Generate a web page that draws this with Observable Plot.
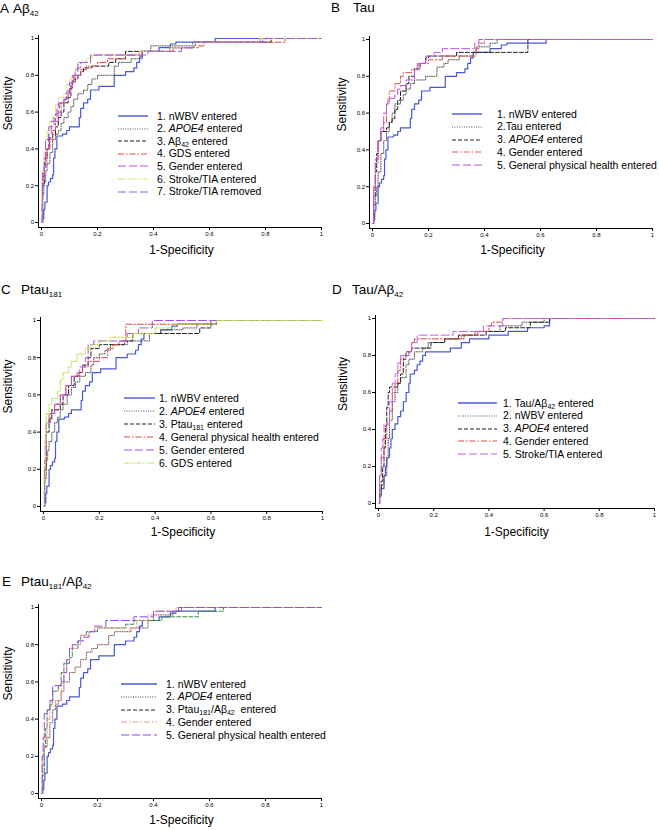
<!DOCTYPE html>
<html><head><meta charset="utf-8">
<script src="https://cdn.jsdelivr.net/npm/d3@7"></script>
<script src="https://cdn.jsdelivr.net/npm/@observablehq/plot@0.6"></script>
<style>
body{margin:0;background:#fff;font-family:"Liberation Sans",Arial,sans-serif;color:#000;}
#root{position:relative;width:659px;height:830px;overflow:hidden;}
.plot{position:absolute;}
.letter,.title{position:absolute;font-size:13.5px;line-height:13px;white-space:nowrap;}
.title sub,.legt sub{font-size:8px;vertical-align:-3px;line-height:0;}
.legt sub{font-size:7px;vertical-align:-2px;}
.legt{position:absolute;font-size:10.5px;line-height:12px;white-space:nowrap;}
.legs{position:absolute;}
</style></head><body><div id="root"></div>
<script>
// ---------- tick values / labels ----------
const tickValues = [0, 0.2, 0.4, 0.6, 0.8, 1];
const tickLabels = ["0", "0.2", "0.4", "0.6", "0.8", "1"];

// ---------- panel texts ----------
const panelLetters = ["A", "B", "C", "D", "E"];
const panelTitles = ["Aβ<sub>42</sub>", "Tau", "Ptau<sub>181</sub>", "Tau/Aβ<sub>42</sub>", "Ptau<sub>181</sub>/Aβ<sub>42</sub>"];
const xLabel = "1-Specificity";
const yLabel = "Sensitivity";

// ---------- shared curve: nWBV only model ----------
const nWBV = [[0,0],[0.004,0.02],[0.008,0.07],[0.012,0.11],[0.02,0.2],[0.025,0.22],[0.032,0.24],[0.04,0.26],[0.043,0.35],[0.048,0.4],[0.055,0.47],[0.075,0.48],[0.09,0.5],[0.1,0.52],[0.13,0.52],[0.135,0.57],[0.14,0.62],[0.15,0.65],[0.165,0.67],[0.175,0.72],[0.205,0.74],[0.26,0.8],[0.3,0.82],[0.33,0.84],[0.34,0.87],[0.35,0.9],[0.36,0.93],[0.42,0.95],[0.46,0.97],[0.48,0.98],[0.62,1],[1,1]];

// ---------- Panel A: Aβ42 ----------
const A_labels = ["1. nWBV entered", "2. <i>APOE4</i> entered", "3. Aβ<sub>42</sub> entered", "4. GDS entered", "5. Gender entered", "6. Stroke/TIA entered", "7. Stroke/TIA removed"];
const A_apoe4 = [[0,0],[0.004,0.15],[0.008,0.22],[0.015,0.28],[0.02,0.32],[0.03,0.38],[0.04,0.45],[0.05,0.48],[0.06,0.5],[0.07,0.54],[0.08,0.57],[0.095,0.6],[0.105,0.63],[0.115,0.67],[0.13,0.7],[0.15,0.72],[0.165,0.75],[0.18,0.78],[0.2,0.8],[0.26,0.85],[0.275,0.87],[0.32,0.89],[0.36,0.93],[0.39,0.96],[0.55,0.98],[0.78,1],[1,1]];
const A_abeta = [[0,0],[0.004,0.2],[0.01,0.3],[0.015,0.35],[0.02,0.4],[0.028,0.46],[0.04,0.48],[0.05,0.52],[0.06,0.57],[0.07,0.6],[0.08,0.65],[0.095,0.68],[0.105,0.73],[0.11,0.76],[0.12,0.78],[0.13,0.8],[0.14,0.82],[0.15,0.84],[0.18,0.85],[0.24,0.87],[0.265,0.89],[0.3,0.93],[0.46,0.95],[0.54,0.98],[0.82,1],[1,1]];
const A_gds = [[0,0],[0.003,0.25],[0.01,0.33],[0.02,0.4],[0.03,0.45],[0.04,0.5],[0.05,0.55],[0.06,0.6],[0.07,0.65],[0.085,0.68],[0.095,0.72],[0.105,0.76],[0.115,0.8],[0.14,0.83],[0.16,0.85],[0.2,0.87],[0.235,0.89],[0.3,0.91],[0.36,0.93],[0.47,0.95],[0.56,0.96],[0.58,0.98],[0.87,1],[1,1]];
const A_gender = [[0,0],[0.003,0.2],[0.008,0.3],[0.015,0.4],[0.025,0.48],[0.035,0.52],[0.045,0.57],[0.055,0.62],[0.065,0.65],[0.08,0.67],[0.09,0.7],[0.1,0.74],[0.11,0.78],[0.12,0.8],[0.13,0.84],[0.14,0.87],[0.175,0.91],[0.35,0.93],[0.46,0.95],[0.54,0.98],[0.8,1],[1,1]];
const A_strokeIn = [[0,0],[0.002,0.28],[0.008,0.38],[0.015,0.45],[0.02,0.5],[0.03,0.55],[0.04,0.58],[0.05,0.64],[0.06,0.68],[0.08,0.7],[0.09,0.75],[0.1,0.78],[0.11,0.8],[0.12,0.84],[0.13,0.87],[0.16,0.89],[0.18,0.91],[0.35,0.93],[0.46,0.95],[0.54,0.98],[0.78,1],[1,1]];
const A_strokeOut = [[0,0],[0.002,0.12],[0.004,0.27],[0.01,0.35],[0.014,0.45],[0.026,0.52],[0.035,0.55],[0.05,0.59],[0.06,0.65],[0.08,0.67],[0.09,0.71],[0.1,0.76],[0.11,0.8],[0.12,0.83],[0.13,0.87],[0.175,0.91],[0.38,0.93],[0.5,0.95],[0.54,0.98],[0.79,1],[1,1]];

// ---------- Panel B: Tau ----------
const B_labels = ["1. nWBV entered", "2.Tau entered", "3. <i>APOE4</i> entered", "4. Gender entered", "5. General physical health entered"];
const B_tau = [[0,0],[0.004,0.1],[0.01,0.15],[0.015,0.2],[0.02,0.28],[0.03,0.38],[0.04,0.45],[0.05,0.5],[0.06,0.55],[0.07,0.6],[0.08,0.65],[0.1,0.67],[0.11,0.7],[0.12,0.73],[0.135,0.76],[0.15,0.78],[0.19,0.8],[0.23,0.85],[0.255,0.87],[0.27,0.89],[0.31,0.91],[0.36,0.93],[0.37,0.96],[0.42,0.98],[0.445,1],[1,1]];
const B_apoe4 = [[0,0],[0.004,0.15],[0.01,0.28],[0.015,0.38],[0.02,0.45],[0.03,0.5],[0.05,0.52],[0.06,0.55],[0.07,0.57],[0.08,0.62],[0.09,0.67],[0.1,0.72],[0.12,0.76],[0.13,0.8],[0.15,0.84],[0.17,0.87],[0.19,0.9],[0.2,0.91],[0.3,0.93],[0.555,1],[1,1]];
const B_gender = [[0,0],[0.004,0.2],[0.01,0.33],[0.02,0.45],[0.03,0.5],[0.04,0.55],[0.05,0.65],[0.06,0.72],[0.08,0.76],[0.1,0.8],[0.11,0.82],[0.14,0.84],[0.165,0.87],[0.2,0.89],[0.25,0.91],[0.37,0.95],[0.38,0.98],[0.4,1],[1,1]];
const B_gph = [[0,0],[0.004,0.18],[0.01,0.35],[0.02,0.45],[0.03,0.52],[0.04,0.6],[0.05,0.65],[0.055,0.68],[0.08,0.7],[0.09,0.73],[0.1,0.75],[0.12,0.78],[0.15,0.83],[0.16,0.87],[0.19,0.91],[0.22,0.93],[0.25,0.95],[0.365,0.98],[0.38,1],[1,1]];

// ---------- Panel C: Ptau181 ----------
const C_labels = ["1. nWBV entered", "2. <i>APOE4</i> entered", "3. Ptau<sub>181</sub> entered", "4. General physical health entered", "5. Gender entered", "6. GDS entered"];
const C_apoe4 = [[0,0],[0.004,0.15],[0.01,0.25],[0.015,0.3],[0.02,0.35],[0.03,0.4],[0.04,0.45],[0.05,0.48],[0.06,0.52],[0.07,0.55],[0.085,0.6],[0.1,0.64],[0.115,0.67],[0.13,0.7],[0.15,0.72],[0.17,0.76],[0.18,0.8],[0.2,0.82],[0.22,0.84],[0.24,0.87],[0.3,0.89],[0.38,0.93],[0.42,0.95],[0.5,0.96],[0.55,0.98],[0.6,1],[1,1]];
const C_ptau = [[0,0],[0.004,0.2],[0.01,0.4],[0.02,0.47],[0.03,0.52],[0.06,0.55],[0.07,0.6],[0.09,0.65],[0.11,0.7],[0.125,0.72],[0.14,0.76],[0.16,0.8],[0.17,0.85],[0.2,0.87],[0.29,0.89],[0.32,0.93],[0.56,0.96],[0.6,0.98],[0.62,1],[1,1]];
const C_gph = [[0,0],[0.004,0.2],[0.01,0.45],[0.02,0.5],[0.04,0.55],[0.06,0.6],[0.08,0.65],[0.1,0.7],[0.12,0.72],[0.14,0.75],[0.16,0.78],[0.2,0.8],[0.23,0.85],[0.25,0.87],[0.27,0.89],[0.295,0.98],[0.6,1],[1,1]];
const C_gender = [[0,0],[0.004,0.25],[0.01,0.45],[0.025,0.5],[0.04,0.55],[0.06,0.6],[0.08,0.65],[0.1,0.7],[0.13,0.75],[0.15,0.8],[0.16,0.87],[0.18,0.89],[0.3,0.93],[0.34,0.96],[0.39,1],[1,1]];
const C_gds = [[0,0],[0.002,0.2],[0.005,0.35],[0.01,0.5],[0.02,0.55],[0.03,0.58],[0.05,0.62],[0.06,0.68],[0.07,0.72],[0.09,0.75],[0.1,0.78],[0.12,0.82],[0.15,0.85],[0.17,0.87],[0.2,0.89],[0.24,0.91],[0.32,0.93],[0.4,0.96],[0.47,0.98],[0.62,1],[1,1]];

// ---------- Panel D: Tau/Aβ42 ----------
const D_labels = ["1. Tau/Aβ<sub>42</sub> entered", "2. nWBV entered", "3. <i>APOE4</i> entered", "4. Gender entered", "5. Stroke/TIA entered"];
const D_ratio = [[0,0],[0.004,0.04],[0.01,0.08],[0.02,0.15],[0.025,0.2],[0.03,0.25],[0.04,0.3],[0.045,0.35],[0.05,0.4],[0.06,0.43],[0.07,0.47],[0.08,0.5],[0.09,0.55],[0.1,0.6],[0.11,0.65],[0.115,0.7],[0.13,0.72],[0.14,0.75],[0.15,0.77],[0.16,0.8],[0.17,0.82],[0.26,0.84],[0.3,0.87],[0.33,0.89],[0.4,0.91],[0.47,0.93],[0.54,0.95],[0.6,0.96],[0.62,1],[1,1]];
const D_nwbv = [[0,0],[0.004,0.05],[0.01,0.1],[0.02,0.15],[0.03,0.24],[0.035,0.35],[0.04,0.45],[0.05,0.55],[0.06,0.6],[0.07,0.65],[0.08,0.68],[0.1,0.75],[0.11,0.78],[0.13,0.82],[0.16,0.84],[0.18,0.87],[0.24,0.89],[0.31,0.91],[0.35,0.93],[0.44,0.96],[0.52,0.98],[0.6,1],[1,1]];
const D_apoe4 = [[0,0],[0.004,0.08],[0.01,0.12],[0.015,0.2],[0.02,0.3],[0.025,0.42],[0.03,0.52],[0.035,0.6],[0.04,0.63],[0.07,0.65],[0.08,0.7],[0.09,0.78],[0.1,0.82],[0.12,0.84],[0.19,0.87],[0.24,0.89],[0.29,0.91],[0.39,0.93],[0.46,0.95],[0.55,0.98],[0.62,1],[1,1]];
const D_gender = [[0,0],[0.004,0.15],[0.01,0.25],[0.02,0.35],[0.03,0.44],[0.04,0.5],[0.05,0.6],[0.06,0.65],[0.07,0.72],[0.08,0.78],[0.09,0.8],[0.11,0.82],[0.12,0.87],[0.13,0.89],[0.3,0.91],[0.36,0.93],[0.4,0.96],[0.41,0.98],[0.45,1],[1,1]];
const D_stroke = [[0,0],[0.004,0.15],[0.01,0.3],[0.015,0.35],[0.02,0.43],[0.04,0.55],[0.05,0.65],[0.06,0.7],[0.07,0.76],[0.08,0.8],[0.11,0.82],[0.12,0.87],[0.14,0.91],[0.27,0.93],[0.38,0.96],[0.45,1],[1,1]];

// ---------- Panel E: Ptau181/Aβ42 ----------
const E_labels = ["1. nWBV entered", "2. <i>APOE4</i> entered", "3. Ptau<sub>181</sub>/Aβ<sub>42</sub>&nbsp; entered", "4. Gender entered", "5. General physical health entered"];
const E_apoe4 = [[0,0],[0.004,0.15],[0.01,0.25],[0.02,0.3],[0.03,0.38],[0.04,0.45],[0.05,0.48],[0.06,0.5],[0.07,0.55],[0.08,0.6],[0.1,0.65],[0.12,0.68],[0.14,0.72],[0.16,0.76],[0.18,0.78],[0.2,0.8],[0.24,0.85],[0.26,0.87],[0.32,0.89],[0.38,0.93],[0.4,0.96],[0.47,0.98],[0.5,1],[1,1]];
const E_ratio = [[0,0],[0.004,0.1],[0.01,0.25],[0.015,0.35],[0.02,0.45],[0.03,0.48],[0.04,0.55],[0.06,0.58],[0.07,0.65],[0.08,0.7],[0.1,0.73],[0.11,0.78],[0.13,0.82],[0.14,0.85],[0.16,0.87],[0.2,0.89],[0.3,0.91],[0.33,0.93],[0.43,0.95],[0.56,0.98],[0.65,1],[1,1]];
const E_gender = [[0,0],[0.004,0.2],[0.01,0.3],[0.02,0.4],[0.03,0.47],[0.05,0.5],[0.07,0.6],[0.08,0.67],[0.09,0.72],[0.1,0.78],[0.13,0.8],[0.14,0.85],[0.17,0.87],[0.19,0.89],[0.34,0.93],[0.38,0.96],[0.4,0.98],[0.48,1],[1,1]];
const E_gph = [[0,0],[0.002,0.2],[0.006,0.3],[0.01,0.43],[0.02,0.45],[0.03,0.5],[0.04,0.58],[0.07,0.6],[0.08,0.65],[0.09,0.72],[0.1,0.78],[0.11,0.8],[0.13,0.82],[0.15,0.84],[0.17,0.87],[0.19,0.9],[0.23,0.93],[0.33,0.95],[0.4,0.98],[0.49,1],[1,1]];

// ---------- styles (kept apart from data) ----------
const DASH = {solid: null, dot: "1,1.4", dash: "4,2", dashdot: "6,2,1.5,2", long: "8,3", dashdotdot: "5,1.5,1.5,1.5,1.5,1.5"};
const BLUE = "#4a58d4";
const panels = [
  {left:0, width:330, x0:41, x1:321, y1:38, y0:222, xlabDy:31, ylabX:8,
   letterX:0, titleX:13, baseline:12.5,
   legLineX:118, legLineW:30, legTextX:157, legY0:116, legStep:12.6, labels:A_labels,
   series:[
    {data:nWBV, stroke:BLUE, dash:"solid", w:1.2},
    {data:A_apoe4, stroke:"#555", dash:"dot"},
    {data:A_abeta, stroke:"#222", dash:"dash"},
    {data:A_gds, stroke:"#e04848", dash:"dashdot"},
    {data:A_gender, stroke:"#c24ae6", dash:"long"},
    {data:A_strokeIn, stroke:"#dde05a", dash:"dashdotdot"},
    {data:A_strokeOut, stroke:"#9a5ce8", dash:"long"}]},
  {left:330, width:329, x0:372, x1:652, y1:39, y0:223, xlabDy:30, ylabX:342,
   letterX:331, titleX:353, baseline:12,
   legLineX:452, legLineW:30, legTextX:497, legY0:114, legStep:12.75, labels:B_labels,
   series:[
    {data:nWBV, stroke:BLUE, dash:"solid", w:1.2},
    {data:B_tau, stroke:"#555", dash:"dot"},
    {data:B_apoe4, stroke:"#222", dash:"dash"},
    {data:B_gender, stroke:"#e05858", dash:"dashdot"},
    {data:B_gph, stroke:"#c050e8", dash:"long"}]},
  {left:0, width:330, x0:43, x1:322, y1:320, y0:506, xlabDy:29, ylabX:8,
   letterX:1, titleX:21, baseline:293.5,
   legLineX:124, legLineW:31, legTextX:159, legY0:398, legStep:13, labels:C_labels,
   series:[
    {data:nWBV, stroke:BLUE, dash:"solid", w:1.2},
    {data:C_apoe4, stroke:"#555", dash:"dot"},
    {data:C_ptau, stroke:"#222", dash:"dash"},
    {data:C_gph, stroke:"#e04a4a", dash:"dashdot"},
    {data:C_gender, stroke:"#a850e0", dash:"long"},
    {data:C_gds, stroke:"#bde050", dash:"dashdotdot"}]},
  {left:330, width:329, x0:378, x1:654, y1:318, y0:503, xlabDy:32, ylabX:343,
   letterX:332, titleX:352, baseline:293.5,
   legLineX:458, legLineW:39, legTextX:503, legY0:403, legStep:12.75, labels:D_labels,
   series:[
    {data:D_ratio, stroke:BLUE, dash:"solid", w:1.2},
    {data:D_nwbv, stroke:"#555", dash:"dot"},
    {data:D_apoe4, stroke:"#222", dash:"dash"},
    {data:D_gender, stroke:"#e04848", dash:"dashdot"},
    {data:D_stroke, stroke:"#c060e8", dash:"long"}]},
  {left:0, width:330, x0:41, x1:321, y1:607, y0:793, xlabDy:30, ylabX:8,
   letterX:2, titleX:21, baseline:585.5,
   legLineX:121, legLineW:36, legTextX:166, legY0:684, legStep:12.75, labels:E_labels,
   series:[
    {data:nWBV, stroke:BLUE, dash:"solid", w:1.2},
    {data:E_apoe4, stroke:"#8a5555", dash:"dot", legend:"#444"},
    {data:E_ratio, stroke:"#3a8a3a", dash:"dash", legend:"#222"},
    {data:E_gender, stroke:"#e8a090", dash:"dashdot"},
    {data:E_gph, stroke:"#8a4ee0", dash:"long"}]}
];

const root = document.getElementById("root");
const fmt = d => tickLabels[tickValues.indexOf(d)] ?? String(d);

panels.forEach((p, i) => {
  const top = p.y1 - 10;
  const innerH = p.y0 - p.y1;
  const H = innerH + 10 + 40;
  const lines = p.series.map(s => Plot.line(s.data, {
    x: d => d[0], y: d => d[1], curve: "step-after",
    stroke: s.stroke, strokeWidth: s.w ?? 1, strokeDasharray: DASH[s.dash] ?? undefined
  }));
  const chart = Plot.plot({
    width: p.width, height: H,
    marginLeft: p.x0 - p.left, marginRight: p.left + p.width - p.x1,
    marginTop: 10, marginBottom: H - 10 - innerH,
    x: {domain: [0, 1]}, y: {domain: [0, 1]},
    style: {fontFamily: "'Liberation Sans', Arial, sans-serif", background: "transparent", overflow: "visible"},
    marks: [
      Plot.ruleX([0], {dx: -3, insetTop: -3, insetBottom: -5, stroke: "#000", strokeWidth: 1}),
      Plot.ruleY([0], {dy: 5, insetLeft: -3, stroke: "#000", strokeWidth: 1}),
      Plot.axisX({ticks: tickValues, tickFormat: fmt, tickSize: 3, tickPadding: 1.5, dy: 5, fontSize: 6, label: null}),
      Plot.axisY({ticks: tickValues, tickFormat: fmt, tickSize: 3, tickPadding: 1.5, dx: -3, fontSize: 6, label: null}),
      ...lines,
      Plot.text([xLabel], {text: d => d, frameAnchor: "bottom", dy: p.xlabDy, fontSize: 12}),
      Plot.text([yLabel], {text: d => d, frameAnchor: "left", dx: -(p.x0 - p.ylabX), rotate: -90, fontSize: 12})
    ]
  });
  chart.classList.add("plot");
  chart.style.left = p.left + "px";
  chart.style.top = top + "px";
  root.appendChild(chart);

  // panel letter and title
  const L = document.createElement("div");
  L.className = "letter"; L.textContent = panelLetters[i];
  L.style.left = p.letterX + "px"; L.style.top = (p.baseline - 11) + "px";
  root.appendChild(L);
  const T = document.createElement("div");
  T.className = "title"; T.innerHTML = panelTitles[i];
  T.style.left = p.titleX + "px"; T.style.top = (p.baseline - 11) + "px";
  root.appendChild(T);

  // legend
  p.series.forEach((s, j) => {
    const cy = p.legY0 + j * p.legStep;
    const svg = d3.create("svg").attr("class", "legs")
      .attr("width", p.legLineW).attr("height", 6)
      .style("left", p.legLineX + "px").style("top", (cy - 3) + "px");
    svg.append("line").attr("x1", 0).attr("x2", p.legLineW).attr("y1", 3).attr("y2", 3)
      .attr("stroke", s.legend ?? s.stroke).attr("stroke-width", (s.w ?? 1) + 0.2)
      .attr("stroke-dasharray", DASH[s.dash]);
    root.appendChild(svg.node());
    const t = document.createElement("div");
    t.className = "legt"; t.innerHTML = p.labels[j];
    t.style.left = p.legTextX + "px"; t.style.top = (cy - 6.5) + "px";
    root.appendChild(t);
  });
});
</script></body></html>
